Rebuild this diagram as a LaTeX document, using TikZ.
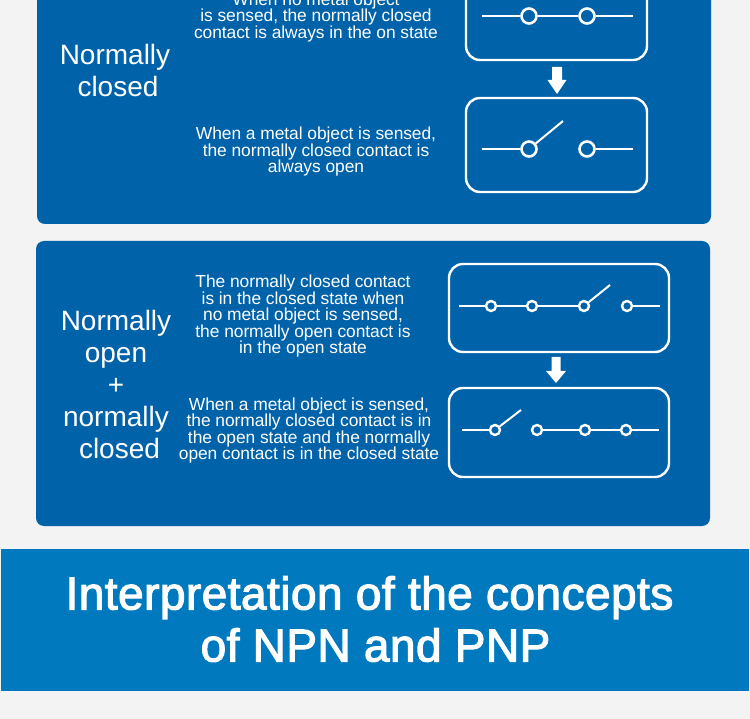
\documentclass[tikz,border=0pt]{standalone}
\usepackage{fontspec}
\setmainfont{Liberation Sans}
\usepackage{tikz}
\usetikzlibrary{positioning, arrows.meta, shapes.arrows}
\definecolor{panelblue}{HTML}{0062A9}
\definecolor{bannerblue}{HTML}{0079BF}
\definecolor{pagegray}{HTML}{F3F3F3}
\tikzset{
    panel/.style={fill=panelblue, rounded corners=8pt},
    bigtext/.style={text=white, align=center, font=\fontsize{28}{32}\selectfont, inner sep=0pt},
    smalltext/.style={text=white, align=center, font=\fontsize{17.4}{16.5}\selectfont\addfontfeatures{LetterSpace=-0.4}, inner sep=0pt},
    switchbox/.style={draw=white, line width=2.4pt, rounded corners=14pt},
    contact/.style={circle, draw=white, line width=2.6pt, minimum size=15pt, inner sep=0pt},
    smallcontact/.style={circle, draw=white, line width=2.4pt, minimum size=10pt, inner sep=0pt},
    wire/.style={draw=white, line width=2pt},
    downarrow/.style={fill=white, draw=none}
}
\begin{document}
\begin{tikzpicture}[x=1pt, y=-1pt]
    \useasboundingbox (0,0) rectangle (750,719);
    \fill[pagegray] (0,0) rectangle (750,719);

    % Upper panel: normally closed
    \fill[panel] (37,-30) rectangle (711,224);
    \node[bigtext] (nctitle) at (115,70) {Normally\\ \hspace*{6pt}closed};
    \node[smalltext] (ncon) at (316,17.5) {When no metal object\\ is sensed, the normally closed\\ contact is always in the on state};
    \node[smalltext] (ncoff) at (316,152) {When a metal object is sensed,\\ the normally closed contact is\\ always open};

    \draw[switchbox] (466,-30) rectangle (647,60);
    \node[contact] (a1) at (529,16) {};
    \node[contact] (a2) at (587,16) {};
    \coordinate (a0) at (482,16);
    \coordinate (a3) at (633,16);
    \draw[wire] (a0) -- (a1);
    \draw[wire] (a1) -- (a2);
    \draw[wire] (a2) -- (a3);

    \fill[downarrow] (552,67) -- (562,67) -- (562,80) -- (566.5,80) -- (557,94) -- (547.5,80) -- (552,80) -- cycle;

    \draw[switchbox] (466,98) rectangle (647,192);
    \node[contact] (b1) at (529,149) {};
    \node[contact] (b2) at (587,149) {};
    \coordinate (b0) at (482,149);
    \coordinate (b3) at (633,149);
    \coordinate (bblade) at (563,121);
    \draw[wire] (b0) -- (b1);
    \draw[wire] (b1) -- (bblade);
    \draw[wire] (b2) -- (b3);

    % Lower panel: normally open + normally closed
    \fill[panel] (36,241) rectangle (710,526);
    \node[bigtext] (notitle) at (116,384) {Normally\\ open\\ +\\ normally\\ \hspace*{7pt}closed};
    \node[smalltext] (noon) at (303,316.5) {The normally closed contact\\ is in the closed state when\\ no metal object is sensed,\\ the normally open contact is\\ in the open state};
    \node[smalltext] (nooff) at (309,430.5) {When a metal object is sensed,\\ the normally closed contact is in\\ the open state and the normally\\ open contact is in the closed state};

    \draw[switchbox] (449,264) rectangle (669,352);
    \node[smallcontact] (c1) at (491,306) {};
    \node[smallcontact] (c2) at (532,306) {};
    \node[smallcontact] (c3) at (584,306) {};
    \node[smallcontact] (c4) at (627,306) {};
    \coordinate (c0) at (459,306);
    \coordinate (c5) at (660,306);
    \coordinate (cblade) at (610,285);
    \draw[wire] (c0) -- (c1);
    \draw[wire] (c1) -- (c2);
    \draw[wire] (c2) -- (c3);
    \draw[wire] (c3) -- (cblade);
    \draw[wire] (c4) -- (c5);

    \fill[downarrow] (551.5,357) -- (560.5,357) -- (560.5,371) -- (566,371) -- (556,383) -- (546,371) -- (551.5,371) -- cycle;

    \draw[switchbox] (449,388) rectangle (669,477);
    \node[smallcontact] (d1) at (495,430) {};
    \node[smallcontact] (d2) at (537,430) {};
    \node[smallcontact] (d3) at (585,430) {};
    \node[smallcontact] (d4) at (626,430) {};
    \coordinate (d0) at (462,430);
    \coordinate (d5) at (659,430);
    \coordinate (dblade) at (521,410);
    \draw[wire] (d0) -- (d1);
    \draw[wire] (d1) -- (dblade);
    \draw[wire] (d2) -- (d3);
    \draw[wire] (d3) -- (d4);
    \draw[wire] (d4) -- (d5);

    % Bottom banner
    \fill[bannerblue] (1,549) rectangle (749,691);
    \node[text=white, align=center, inner sep=0pt, font=\fontsize{46}{52}\selectfont\addfontfeatures{FakeBold=2.5,LetterSpace=1}] (heading) at (369.5,619) {Interpretation of the concepts\\ \hspace*{12pt}of NPN and PNP};
\end{tikzpicture}
\end{document}
